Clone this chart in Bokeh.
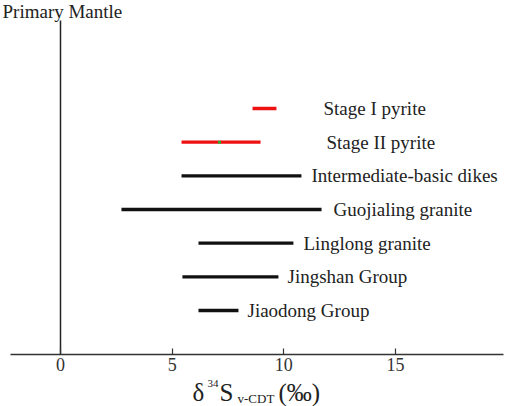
from bokeh.plotting import figure
from bokeh.models import Range1d, FixedTicker, Label, ColumnDataSource
from bokeh.core.properties import value
from bokeh.embed import file_html
from bokeh.resources import INLINE

# ---- data ----
groups = ["Stage I pyrite", "Stage II pyrite", "Intermediate-basic dikes",
          "Guojialing  granite", "Linglong granite", "Jingshan Group", "Jiaodong Group"]
s_min = [8.60, 5.42, 5.42, 2.73, 6.18, 5.46, 6.18]
s_max = [9.67, 8.96, 10.79, 11.69, 10.43, 9.76, 7.97]
colors = ["#ee1111", "#ee1111", "#111111", "#111111", "#111111", "#111111", "#111111"]
mean_stage2 = [7.12]
mantle_value = [0.0]
tick_values = [0, 5, 10, 15]

# ---- layout helpers (page pixel -> data) ----
PX0, PXU = 60.0, 22.33      # page x of 0, px per unit
PY7, PYU = 108.0, 33.67     # page y of row 7, px per row
def dx(px):
    return (px - PX0) / PXU
def dy(py):
    return 7 - (py - PY7) / PYU

FONT = "Liberation Serif"
n = len(groups)
rows = [n - i for i in range(n)]
label_px = [323, 326, 311, 333, 303, 287, 247]

p = figure(width=505, height=406, output_backend="svg", toolbar_location=None,
           x_range=Range1d(dx(0), dx(505)), y_range=Range1d(dy(406), dy(0)),
           y_axis_location=None, min_border_left=0, min_border_right=0,
           min_border_top=0, min_border_bottom=0)
p.outline_line_color = None
p.xgrid.visible = False
p.ygrid.visible = False
p.background_fill_color = "white"
p.border_fill_color = "white"

ax = p.xaxis[0]
ax.fixed_location = dy(354)
ax.bounds = (dx(10), dx(503))
ax.ticker = FixedTicker(ticks=tick_values, minor_ticks=[])
ax.major_tick_in = 6
ax.major_tick_out = 0
ax.minor_tick_in = 0
ax.minor_tick_out = 0
ax.axis_line_width = 1.5
ax.axis_line_color = "#333333"
ax.major_tick_line_color = "#333333"
ax.major_tick_line_width = 1.2
ax.major_label_text_font = FONT
ax.major_label_text_font_size = "18px"
ax.major_label_text_color = "#333333"
ax.major_label_standoff = 3

# primary mantle vertical line
p.segment(x0=mantle_value, y0=[dy(354)], x1=mantle_value, y1=[dy(20)],
          line_color="#222222", line_width=1.5)

src = ColumnDataSource(dict(x0=s_min, x1=s_max, y=rows, c=colors, name=groups,
                            lx=[dx(v) for v in label_px]))
p.segment(x0="x0", y0="y", x1="x1", y1="y", source=src, line_color="c",
          line_width=3.3, line_cap="butt")
p.scatter(x=mean_stage2, y=[rows[1]], marker="square", size=3,
          fill_color="#33aa33", line_color=None)
p.text(x="lx", y="y", text="name", source=src, text_font=value(FONT),
       text_font_size="19px", text_color="#222222", text_baseline="middle",
       text_align="left")

# title-like label
p.add_layout(Label(x=dx(2), y=dy(0), text="Primary Mantle", text_font=FONT,
                   text_font_size="19px", text_color="#222222",
                   text_baseline="top", text_align="left"))

# axis label built from pieces (page px positions)
pieces = [
    ("δ", 192, 392, "25px"),
    ("34", 207, 383, "11px"),
    ("S", 219, 392, "25px"),
    ("v-CDT", 237, 398, "13px"),
    ("(‰)", 278, 392, "25px"),
]
for t, px, py, fs in pieces:
    p.add_layout(Label(x=dx(px), y=dy(py), text=t, text_font=FONT,
                       text_font_size=fs, text_color="#222222",
                       text_baseline="alphabetic", text_align="left"))

open("out.html", "w").write(file_html(p, INLINE))
